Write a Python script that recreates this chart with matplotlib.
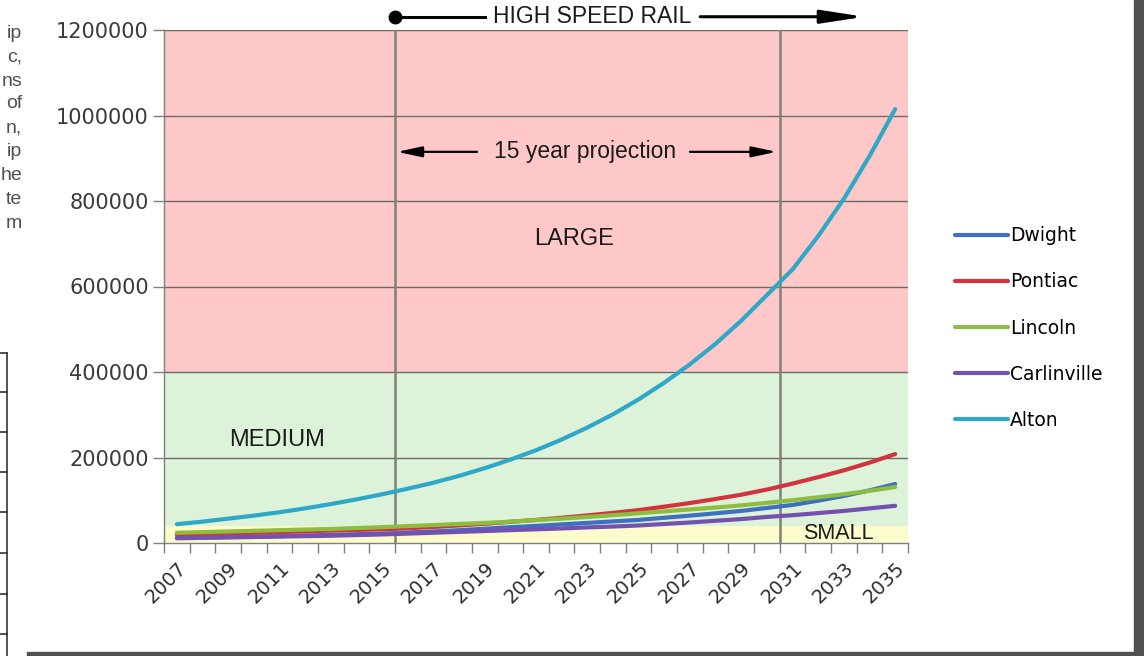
import numpy as np
import matplotlib
matplotlib.use("Agg")
import matplotlib.pyplot as plt
from matplotlib.lines import Line2D
from matplotlib.patches import Rectangle

years = list(range(2007, 2036))

dwight = [12000, 13000, 14000, 15000, 16000, 17500, 19000, 20500, 22000, 24500,
          27000, 30000, 33500, 37000, 40000, 43500, 47000, 50500, 54000, 59000,
          64000, 69500, 75000, 82000, 89000, 99000, 110000, 123000, 138000]
pontiac = [20000, 21000, 22500, 24000, 25500, 27000, 29000, 30500, 32000, 34500,
           37500, 41000, 45000, 49500, 54000, 59000, 64500, 70500, 77000, 85000,
           93500, 103000, 113000, 125000, 139000, 154000, 170000, 188000, 208000]
lincoln = [24000, 25500, 27000, 28500, 30000, 31500, 33000, 35000, 37000, 39500,
           42000, 44500, 47000, 50000, 53500, 57000, 61000, 65000, 69500, 74000,
           78500, 83000, 88000, 94000, 100000, 107000, 114000, 122000, 131000]
carlinville = [11000, 12000, 13000, 14000, 15000, 16000, 17000, 18500, 20000, 22000,
               24000, 26000, 28000, 30000, 32000, 34000, 36500, 38500, 41000, 44500,
               48000, 52000, 56000, 61000, 65000, 70000, 75000, 81000, 87000]
alton = [44000, 50000, 57000, 64000, 72000, 81000, 91000, 102000, 114000, 127000,
         141000, 157000, 175000, 195000, 217000, 242000, 270000, 301000, 336000, 375000,
         418000, 466000, 520000, 580000, 640000, 718000, 805000, 905000, 1015000]

series_names = ["Dwight", "Pontiac", "Lincoln", "Carlinville", "Alton"]
series_colors = ["#3F6FC0", "#D2343F", "#8DBD3E", "#7451B0", "#2FA7C6"]

small_top = 40000
medium_top = 400000
large_top = 1200000
rail_start_year = 2016
rail_end_year = 2031
y_ticks = [0, 200000, 400000, 600000, 800000, 1000000, 1200000]

fig = plt.figure(figsize=(11.44, 6.56), dpi=100, facecolor="white")
ax = fig.add_axes([164 / 1144, 1 - 543 / 656, 744 / 1144, 513 / 656])

x = np.arange(len(years))
ax.set_xlim(-0.5, len(years) - 0.5)
ax.set_ylim(0, large_top)

# size bands
ax.axhspan(0, small_top, color="#FBFBCB", zorder=0, lw=0)
ax.axhspan(small_top, medium_top, color="#DCF3DA", zorder=0, lw=0)
ax.axhspan(medium_top, large_top, color="#FEC8C9", zorder=0, lw=0)

for v in y_ticks[1:]:
    ax.axhline(v, color="#6E6A66", lw=1.0, zorder=1)

# high speed rail window
x_start = years.index(rail_start_year) - 0.5
x_end = years.index(rail_end_year) - 0.5
for xv in (x_start, x_end):
    ax.axvline(xv, color="#7C8176", lw=1.8, zorder=2)

for vals, name, col in zip([dwight, pontiac, lincoln, carlinville, alton],
                           series_names, series_colors):
    ax.plot(x, vals, color=col, lw=3.0, label=name, zorder=3,
            solid_capstyle="round")

for s in ("top", "right"):
    ax.spines[s].set_visible(False)
for s in ("left", "bottom"):
    ax.spines[s].set_color("#7F7F7F")
    ax.spines[s].set_linewidth(1.0)

ax.set_yticks(y_ticks)
ax.set_yticklabels([str(v) for v in y_ticks])
ax.tick_params(axis="y", direction="out", length=8, width=1, color="#7F7F7F",
               labelsize=15, labelcolor="#3A3A3A", pad=3)

ax.set_xticks(np.arange(-0.5, len(years), 1))
ax.set_xticklabels([])
ax.tick_params(axis="x", which="major", direction="out", length=7, width=1,
               color="#7F7F7F")
ax.set_xticks(x[::2], minor=True)
ax.set_xticklabels([str(y) for y in years[::2]], minor=True, rotation=45,
                   ha="right", va="top", rotation_mode="anchor")
ax.tick_params(axis="x", which="minor", length=0, labelsize=14,
               labelcolor="#2E2E2E", pad=11)

label_font = dict(family=["Liberation Sans", "DejaVu Sans"], color="#1A1A1A")
ax.text(15.5, 710000, "LARGE", fontsize=17, ha="center", va="center", **label_font)
ax.text(3.9, 240000, "MEDIUM", fontsize=17, ha="center", va="center", **label_font)
ax.text(25.8, 22000, "SMALL", fontsize=15.5, ha="center", va="center", **label_font)

# 15 year projection arrows
ax.text(15.9, 915000, "15 year projection", fontsize=16.5, ha="center",
        va="center", **label_font)
arrow_kw = dict(arrowstyle="-|>,head_length=0.75,head_width=0.16", color="black",
                lw=1.6, mutation_scale=20, shrinkA=0, shrinkB=0)
ax.annotate("", xy=(x_start + 0.08, 915000), xytext=(11.7, 915000),
            arrowprops=arrow_kw, annotation_clip=False)
ax.annotate("", xy=(x_end - 0.12, 915000), xytext=(20.0, 915000),
            arrowprops=arrow_kw, annotation_clip=False)

# high speed rail header
ax.text(16.2, 1231000, "HIGH SPEED RAIL", fontsize=16.5, ha="center",
        va="center", clip_on=False, **label_font)
ax.plot([x_start], [1231000], "o", color="black", ms=9, clip_on=False, zorder=5)
ax.plot([x_start, 12.0], [1231000, 1231000], color="black", lw=2.2, clip_on=False)
big_arrow = dict(arrowstyle="-|>,head_length=1.3,head_width=0.2", color="black",
                 lw=2.2, mutation_scale=20, shrinkA=0, shrinkB=0)
ax.annotate("", xy=(26.8, 1231000), xytext=(20.4, 1231000),
            arrowprops=big_arrow, annotation_clip=False)

leg = ax.legend(loc="center left", bbox_to_anchor=(955 / 1144, 0.5),
                bbox_transform=fig.transFigure, frameon=False,
                prop={"family": "DejaVu Sans", "size": 13.5},
                handlelength=2.85, handletextpad=0.1, labelspacing=1.45,
                borderpad=0, borderaxespad=0)
for h in leg.get_lines():
    h.set_linewidth(3.0)

# page fragments around the chart screenshot
frag = ["ip", "c,", "ns", "of", "n,", "ip", "he", "te", "m"]
frag_y = [33, 57, 81, 104, 128, 152, 176, 199, 223]
for t, yy in zip(frag, frag_y):
    fig.text(22 / 1144, 1 - yy / 656, t, ha="right", va="center", fontsize=14,
             family=["Liberation Sans", "DejaVu Sans"], color="#505050")
fig.add_artist(Line2D([7 / 1144, 7 / 1144], [0, 1 - 353 / 656],
                      color="#333333", lw=1.2))
for yy in [353, 392, 432, 472, 512, 553, 594, 634]:
    fig.add_artist(Line2D([0, 7 / 1144], [1 - yy / 656, 1 - yy / 656],
                          color="#333333", lw=1.2))

fig.patches.append(Rectangle((1134 / 1144, 0), 10 / 1144, 1,
                             transform=fig.transFigure, color="#505050", zorder=10))
fig.patches.append(Rectangle((27 / 1144, 0), 1117 / 1144, 4 / 656,
                             transform=fig.transFigure, color="#505050", zorder=10))

fig.savefig("out.png", dpi=100, facecolor="white")
